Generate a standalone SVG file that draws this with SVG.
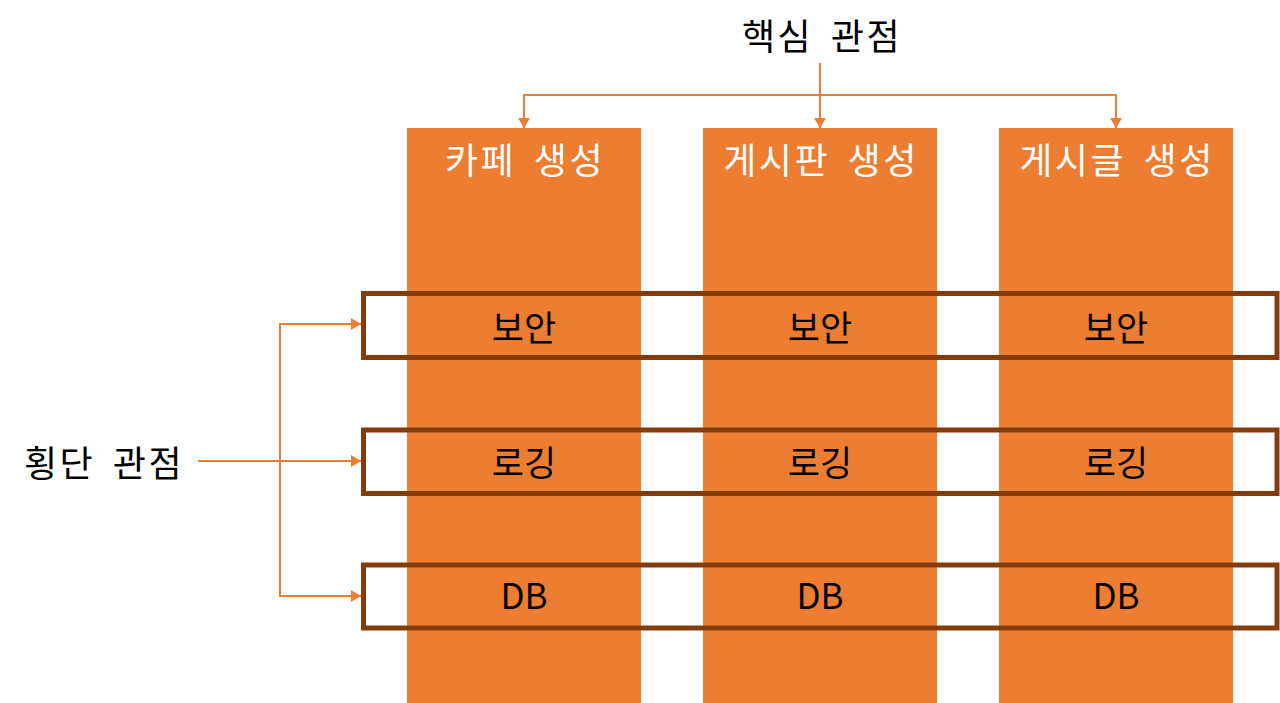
<svg xmlns="http://www.w3.org/2000/svg" width="1280" height="703" viewBox="0 0 1280 703">
<defs>
<style>
.col{fill:#ED7D31}
.band{fill:none;stroke:#843C0C;stroke-width:5}
.t{font-family:"Noto Sans CJK KR","Noto Sans",sans-serif;text-anchor:middle;dominant-baseline:central}
.title{fill:#FFFFFF;font-size:36px;letter-spacing:2.5px;word-spacing:7px}
.lbl{fill:#000000;font-size:35px}
.cap{fill:#000000;font-size:36px;letter-spacing:2.5px;word-spacing:7px}
.ln{fill:none;stroke:#ED7D31;stroke-width:2}
</style>
<marker id="ah" viewBox="0 0 10 12" refX="10" refY="6" markerWidth="10" markerHeight="12" markerUnits="userSpaceOnUse" orient="auto">
<path d="M0,0 L10,6 L0,12 Z" fill="#ED7D31"/>
</marker>
</defs>
<rect width="1280" height="703" fill="#FFFFFF"/>
<g id="col1"><rect class="col" x="407" y="128" width="234" height="575"/><text class="t title" x="525" y="158">카페 생성</text></g>
<g id="col2"><rect class="col" x="703" y="128" width="234" height="575"/><text class="t title" x="821" y="158">게시판 생성</text></g>
<g id="col3"><rect class="col" x="999" y="128" width="234" height="575"/><text class="t title" x="1117" y="158">게시글 생성</text></g>
<g id="row-security">
<rect class="band" x="363.5" y="293.5" width="913.5" height="64"/>
<text class="t lbl" x="524" y="325">보안</text>
<text class="t lbl" x="820" y="325">보안</text>
<text class="t lbl" x="1116" y="325">보안</text>
</g>
<g id="row-logging">
<rect class="band" x="363.5" y="430" width="913.5" height="63.5"/>
<text class="t lbl" x="524" y="460">로깅</text>
<text class="t lbl" x="820" y="460">로깅</text>
<text class="t lbl" x="1116" y="460">로깅</text>
</g>
<g id="row-db">
<rect class="band" x="363.5" y="565" width="913.5" height="63"/>
<text class="t lbl" x="524" y="593">DB</text>
<text class="t lbl" x="820" y="593">DB</text>
<text class="t lbl" x="1116" y="593">DB</text>
</g>
<g id="core"><text class="t cap" x="822" y="34">핵심 관점</text></g>
<g id="cross"><text class="t cap" x="104" y="461">횡단 관점</text></g>
<g id="connectors">
<line class="ln" x1="820" y1="63" x2="820" y2="128" marker-end="url(#ah)"/>
<polyline class="ln" points="524,118 524,95 1116,95 1116,118"/>
<line class="ln" x1="524" y1="110" x2="524" y2="128" marker-end="url(#ah)"/>
<line class="ln" x1="1116" y1="110" x2="1116" y2="128" marker-end="url(#ah)"/>
<line class="ln" x1="198" y1="461" x2="361" y2="461" marker-end="url(#ah)"/>
<polyline class="ln" points="351,324 280,324 280,596 351,596"/>
<line class="ln" x1="340" y1="324" x2="361" y2="324" marker-end="url(#ah)"/>
<line class="ln" x1="340" y1="596" x2="361" y2="596" marker-end="url(#ah)"/>
</g>
</svg>
